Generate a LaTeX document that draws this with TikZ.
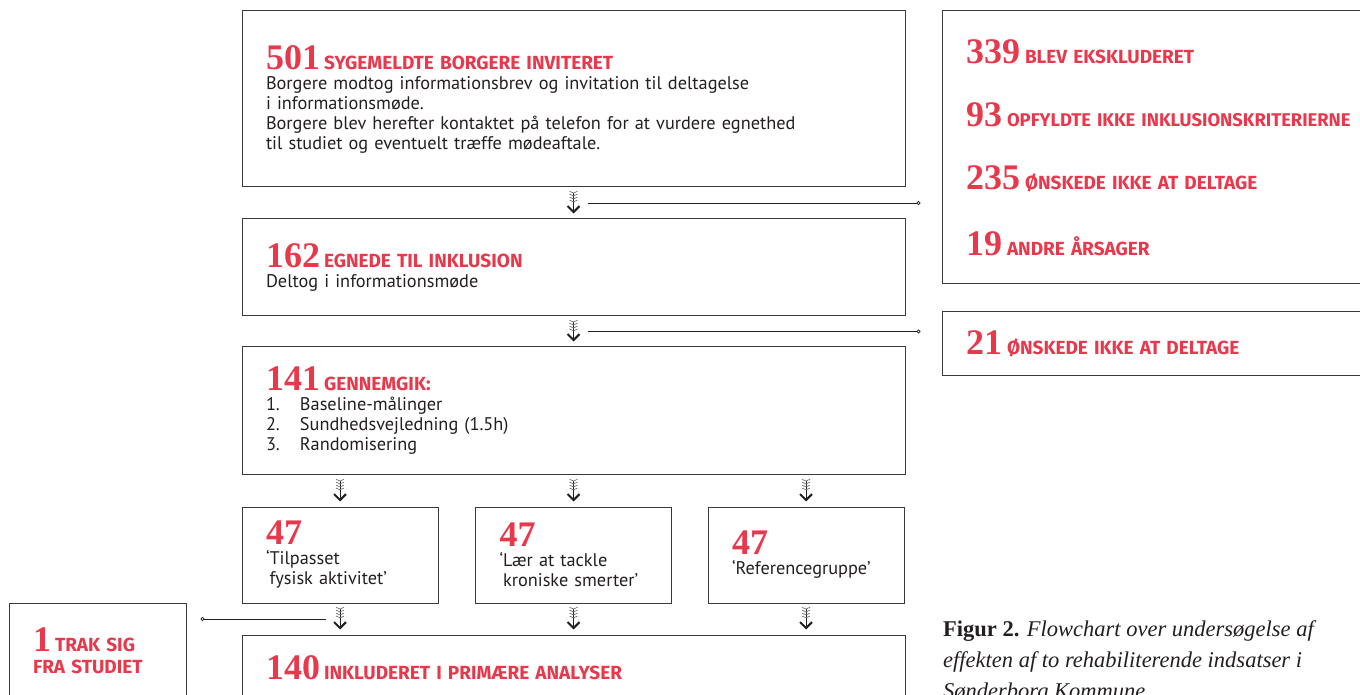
\documentclass[tikz,border=0pt]{standalone}
\usepackage{fontspec}
\setmainfont{PT Sans}
\newfontfamily\numfont{Liberation Serif}
\newfontfamily\hdfont{Fira Sans}
\newfontfamily\capfont{Liberation Serif}
\usepackage{xcolor}
\usetikzlibrary{arrows.meta, positioning, calc}

\definecolor{flowred}{HTML}{E8384C}
\definecolor{ink}{HTML}{231F20}
\definecolor{frame}{HTML}{3A3A3A}

\newcommand{\nr}[1]{{\numfont\bfseries\fontsize{36}{20}\selectfont\color{flowred}#1}}
\newcommand{\hd}[1]{{\hdfont\bfseries\fontsize{19}{20}\selectfont\color{flowred}#1}}
\newcommand{\itm}[1]{\makebox[34pt][l]{#1}}

\begin{document}
\begin{tikzpicture}[
    x=1pt, y=1pt,
    box/.style={rectangle, draw=frame, line width=1pt, align=left, inner xsep=24pt, inner ysep=0pt, text=ink, font=\fontsize{18.3}{20}\selectfont},
    flow/.style={line width=0.9pt, draw=ink, shorten <=3pt, shorten >=5pt,
        {Straight Barb[reversed, length=1.8pt, width=8pt, sep=0.4pt, line width=0.7pt, black!55]
         Straight Barb[reversed, length=1.8pt, width=8pt, sep=0.4pt, line width=0.7pt, black!55]
         Straight Barb[reversed, length=1.8pt, width=8pt, sep=0.4pt, line width=0.7pt, black!55]
         Straight Barb[reversed, length=1.8pt, width=8pt, sep=0.4pt, line width=0.7pt, black!55]}-{Straight Barb[length=6pt, width=12pt, line width=2pt]}},
    side/.style={line width=0.8pt, draw=ink},
    dot/.tip={Circle[open, length=4pt, width=4pt, fill=white]},
]
\useasboundingbox (0,0) rectangle (1360,694);
\clip (0,0) rectangle (1360,694);

% ===== Main column =====
\node[box, text width=615, minimum height=176] (invite) at (573.5,595) {%
    \nr{501}\hspace{4pt}\hd{SYGEMELDTE BORGERE INVITERET}\\
    Borgere modtog informationsbrev og invitation til deltagelse\\
    i informationsmøde.\\
    Borgere blev herefter kontaktet på telefon for at vurdere egnethed\\
    til studiet og eventuelt træffe mødeaftale.};

\node[box, text width=615, minimum height=97] (elig) at (573.5,426.5) {%
    \nr{162}\hspace{4pt}\hd{EGNEDE TIL INKLUSION}\\
    Deltog i informationsmøde};

\node[box, text width=615, minimum height=128] (review) at (573.5,283) {%
    \nr{141}\hspace{4pt}\hd{GENNEMGIK:}\\
    \itm{1.}Baseline-målinger\\
    \itm{2.}Sundhedsvejledning (1.5h)\\
    \itm{3.}Randomisering};

% ===== Three arms =====
\node[box, text width=148, minimum height=96] (armA) at (340,139) {%
    \nr{47}\\
    ‘Tilpasset\\
    \hphantom{‘}fysisk aktivitet’};
\node[box, text width=148, minimum height=96] (armB) at (573.5,139) {%
    \nr{47}\\
    ‘Lær at tackle\\
    \hphantom{‘}kroniske smerter’};
\node[box, text width=148, minimum height=96] (armC) at (806,139) {%
    \nr{47}\\
    ‘Referencegruppe’};

\node[box, text width=615, minimum height=65] (incl) at (573.5,26.5) {%
    \nr{140}\hspace{4pt}\hd{INKLUDERET I PRIMÆRE ANALYSER}};

% ===== Side boxes =====
\node[box, text width=430, minimum height=273] (excl) at (1181,546.5) {%
    \nr{339}\hspace{5pt}\hd{BLEV EKSKLUDERET}\\[38pt]
    \nr{93}\hspace{5pt}\hd{\fontsize{18.4}{20}\selectfont OPFYLDTE IKKE INKLUSIONSKRITERIERNE}\\[38pt]
    \nr{235}\hspace{5pt}\hd{ØNSKEDE IKKE AT DELTAGE}\\[38pt]
    \nr{19}\hspace{5pt}\hd{ANDRE ÅRSAGER}};

\node[box, text width=430, minimum height=64] (decl) at (1181,350) {%
    \nr{21}\hspace{5pt}\hd{ØNSKEDE IKKE AT DELTAGE}};

\node[box, text width=129, minimum height=96] (quit) at (97.5,43) {%
    \nr{1}\hspace{4pt}\hd{TRAK SIG}\\[2pt]
    \hd{FRA STUDIET}};

% ===== Arrows =====
\draw[flow] (invite.south) -- (elig.north);
\draw[flow] (elig.south) -- (review.north);
\foreach \a in {armA, armB, armC} {
    \draw[flow] (review.south -| \a.north) -- (\a.north);
    \draw[flow] (\a.south) -- (incl.north -| \a.south);
}

% ===== Exclusion lines =====
\coordinate (m1) at ($(invite.south)!0.5!(elig.north)$);
\coordinate (m2) at ($(elig.south)!0.5!(review.north)$);
\coordinate (m3) at ($(armA.south)!0.5!(armA.south |- incl.north)$);
\draw[side, -{dot}] ([xshift=14]m1) -- ([xshift=-21]m1 -| excl.west);
\draw[side, -{dot}] ([xshift=14]m2) -- ([xshift=-21]m2 -| decl.west);
\draw[side, {dot}-] ([xshift=14]m3 -| quit.east) -- ([xshift=-14]m3);

% ===== Caption =====
\node[anchor=north west, align=left, inner sep=0pt, text=ink,
      font=\capfont\fontsize{22.5}{31}\selectfont] (cap) at (943,74) {%
    \textbf{Figur 2.} \textit{Flowchart over undersøgelse af}\\
    \textit{effekten af to rehabiliterende indsatser i}\\
    \textit{Sønderborg Kommune}};

\end{tikzpicture}
\end{document}
